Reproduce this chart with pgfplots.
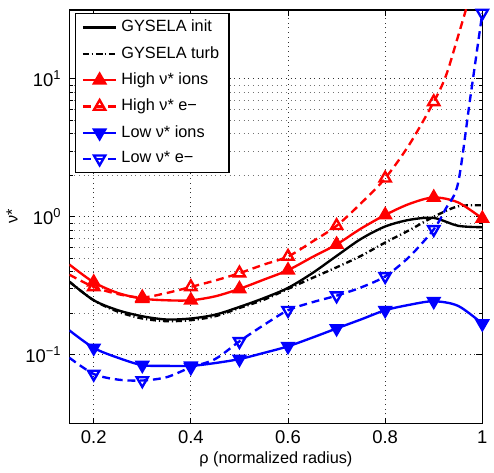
\documentclass[border=0pt]{standalone}
\usepackage{fontspec}
\setmainfont{Liberation Sans}
\usepackage{pgfplots}
\pgfplotsset{compat=1.18}
\definecolor{mred}{rgb}{1,0,0}
\definecolor{mblue}{rgb}{0,0,1}
\begin{document}
\begin{tikzpicture}[font=\fontsize{8.3}{10}\selectfont]
\begin{axis}[
  scale only axis, width=210.5pt, height=211pt,
  xmin=0.15, xmax=1, ymode=log, ymin=0.031623, ymax=31.623,
  xtick={0.2,0.4,0.6,0.8,1}, xticklabels={0.2,0.4,0.6,0.8,1},
  ytick={0.1,1,10},
  yticklabels={10\textsuperscript{−1},10\textsuperscript{0},10\textsuperscript{1}},
  tick label style={font=\fontsize{9.4}{11}\selectfont},
  yticklabel style={xshift=-0.5pt},
  grid=both,
  major grid style={dotted, black!80, line width=0.45pt},
  minor grid style={dotted, black!55, line width=0.4pt},
  tick align=inside, major tick length=3pt, minor tick length=1.6pt,
  every tick/.style={black, line width=0.4pt},
  axis line style={line width=0.75pt},
  xlabel={ρ (normalized radius)}, ylabel={ν*},
  xlabel style={yshift=3pt},
  ylabel style={yshift=-3pt},
  legend style={at={(0.014,0.993)}, anchor=north west, draw=black, line width=0.6pt,
    font=\fontsize{8.3}{10}\selectfont, row sep=1.9pt, inner xsep=3pt, inner ysep=1.5pt},
  legend cell align=left,
  every axis plot/.append style={line width=1.2pt},
  mark options={solid},
]
% GYSELA init
\addplot[black, smooth] table {
0.15 0.338
0.2 0.248
0.25 0.21
0.3 0.19
0.35 0.18
0.4 0.183
0.45 0.195
0.5 0.222
0.55 0.257
0.6 0.305
0.65 0.39
0.7 0.52
0.75 0.69
0.8 0.85
0.85 0.95
0.9 0.98
0.95 0.86
1.0 0.84
};
\addlegendentry{GYSELA init}
% GYSELA turb
\addplot[black, smooth, dash pattern=on 3pt off 1.5pt on 0.6pt off 1.5pt] table {
0.15 0.338
0.2 0.248
0.25 0.205
0.3 0.183
0.35 0.175
0.4 0.178
0.45 0.19
0.5 0.218
0.55 0.25
0.6 0.30
0.65 0.36
0.7 0.43
0.75 0.52
0.8 0.65
0.85 0.80
0.9 1.0
0.95 1.19
1.0 1.21
};
\addlegendentry{GYSELA turb}
% High ions
\addplot[mred, smooth, mark=triangle*, mark size=3.3pt, mark indices={2,4,6,8,10,12,14,16,18}] table {
0.15 0.45
0.2 0.335
0.25 0.28
0.3 0.255
0.35 0.248
0.4 0.248
0.45 0.265
0.5 0.30
0.55 0.35
0.6 0.41
0.65 0.51
0.7 0.63
0.75 0.82
0.8 1.03
0.85 1.24
0.9 1.38
0.95 1.27
1.0 0.97
};
\addlegendentry{High ν* ions}
% High e-
\addplot[mred, smooth, dash pattern=on 4pt off 2.5pt, mark=triangle, mark size=3.3pt, mark indices={2,4,6,8,10,12,14,16}] table {
0.15 0.38
0.2 0.31
0.25 0.275
0.3 0.26
0.35 0.28
0.4 0.31
0.45 0.345
0.5 0.39
0.55 0.45
0.6 0.515
0.65 0.66
0.7 0.86
0.75 1.25
0.8 1.90
0.85 3.35
0.9 6.8
0.925 10.5
0.95 20.3
1.0 80
};
\addlegendentry{High ν* e−}
% Low ions
\addplot[mblue, smooth, mark=triangle*, mark size=3.3pt, every mark/.append style={rotate=180}, mark indices={2,4,6,8,10,12,14,16,18}] table {
0.15 0.15
0.2 0.112
0.25 0.095
0.3 0.084
0.35 0.083
0.4 0.083
0.45 0.087
0.5 0.093
0.55 0.103
0.6 0.115
0.65 0.133
0.7 0.155
0.75 0.18
0.8 0.21
0.85 0.23
0.9 0.244
0.95 0.226
1.0 0.168
};
\addlegendentry{Low ν* ions}
% Low e-
\addplot[mblue, smooth, dash pattern=on 4pt off 2.5pt, mark=triangle, mark size=3.3pt, every mark/.append style={rotate=180}, mark indices={2,4,6,8,10,12,14,16,20}] table {
0.15 0.095
0.2 0.0725
0.25 0.066
0.3 0.065
0.35 0.0687
0.4 0.081
0.45 0.093
0.5 0.125
0.55 0.164
0.6 0.21
0.65 0.24
0.7 0.268
0.75 0.307
0.8 0.37
0.85 0.514
0.9 0.81
0.925 1.15
0.95 1.75
0.975 7.2
1.0 30
};
\addlegendentry{Low ν* e−}
\end{axis}
\path ([yshift=5pt]current axis.north east);
\end{tikzpicture}
\end{document}
